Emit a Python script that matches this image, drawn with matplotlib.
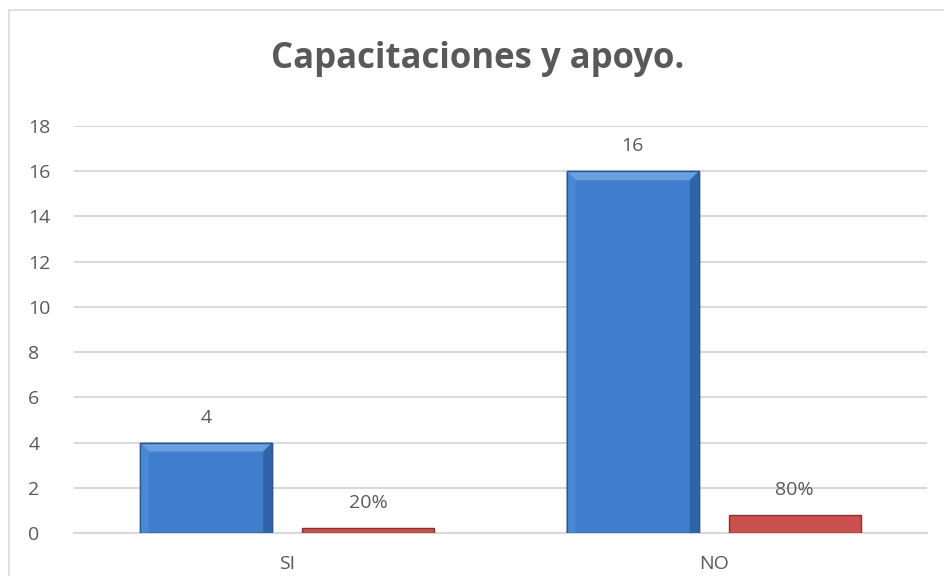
import matplotlib.pyplot as plt
from matplotlib.patches import Polygon, Rectangle
import numpy as np

categories = ["SI", "NO"]
counts = [4, 16]
shares = [0.2, 0.8]
share_labels = ["20%", "80%"]

plt.rcParams['font.family'] = ['Open Sans', 'DejaVu Sans']
text_col = "#595959"
grid_col = "#D9D9D9"
fs = 14

fig = plt.figure(figsize=(9.44, 5.76), dpi=100)
ax = fig.add_axes([74 / 944, 1 - 533 / 576, 853 / 944, 407 / 576])

x = np.arange(len(categories))
w = 0.31
off = 0.19

blue = ax.bar(x - off, counts, w, color="#3F7ECD", edgecolor="#2B5690", linewidth=1, zorder=3)
red = ax.bar(x + off, shares, w, color="#C9504D", edgecolor="#8E2F2D", linewidth=1, zorder=3)

# bevel effect on the blue bars
px_x = 2.0 / 853
px_y = 18.0 / 407
bv = 9
for b in blue:
    x0, x1 = b.get_x(), b.get_x() + b.get_width()
    h = b.get_height()
    dx, dy = bv * px_x, bv * px_y
    top = Polygon([[x0, h], [x1, h], [x1 - dx, h - dy], [x0 + dx, h - dy]],
                  closed=True, facecolor="#6A9FE0", edgecolor="none", zorder=4)
    left = Polygon([[x0, 0], [x0, h], [x0 + dx, h - dy], [x0 + dx, 0]],
                   closed=True, facecolor="#4A88D6", edgecolor="none", zorder=4)
    right = Polygon([[x1, 0], [x1, h], [x1 - dx, h - dy], [x1 - dx, 0]],
                    closed=True, facecolor="#2F64A8", edgecolor="none", zorder=4)
    for p in (top, left, right):
        ax.add_patch(p)
    ax.add_patch(Rectangle((x0, 0), x1 - x0, h, fill=False, edgecolor="#2B5690",
                           linewidth=1, zorder=5))

for b, v in zip(blue, counts):
    ax.annotate(str(v), (b.get_x() + b.get_width() / 2, v), xytext=(0, 18),
                textcoords="offset points", ha="center", va="center",
                fontsize=fs, color=text_col)
for b, v, lab in zip(red, shares, share_labels):
    ax.annotate(lab, (b.get_x() + b.get_width() / 2, v), xytext=(0, 18),
                textcoords="offset points", ha="center", va="center",
                fontsize=fs, color=text_col)

ax.set_xlim(-0.5, 1.5)
ax.set_ylim(0, 18)
ax.set_yticks(range(0, 19, 2))
ax.set_xticks(x)
ax.set_xticklabels(categories)
ax.tick_params(length=0, labelsize=fs, labelcolor=text_col)
ax.tick_params(axis="x", pad=16)
ax.tick_params(axis="y", pad=33)
for lab in ax.get_yticklabels():
    lab.set_horizontalalignment("left")
ax.yaxis.grid(True, color=grid_col, linewidth=1.5)
ax.set_axisbelow(True)
for s in ["top", "right", "left"]:
    ax.spines[s].set_visible(False)
ax.spines["bottom"].set_color(grid_col)
ax.spines["bottom"].set_linewidth(1.5)

fig.text(478 / 944, 1 - 68 / 576, "Capacitaciones y apoyo.", ha="center", va="baseline",
         fontsize=25, fontweight="bold", color=text_col)

# outer chart border
fig.add_artist(Rectangle((9 / 944, -0.05), 1.2, 1 - 10 / 576 + 0.05, transform=fig.transFigure,
                         fill=False, edgecolor=grid_col, linewidth=1.2))

fig.savefig("out.png", dpi=100)
